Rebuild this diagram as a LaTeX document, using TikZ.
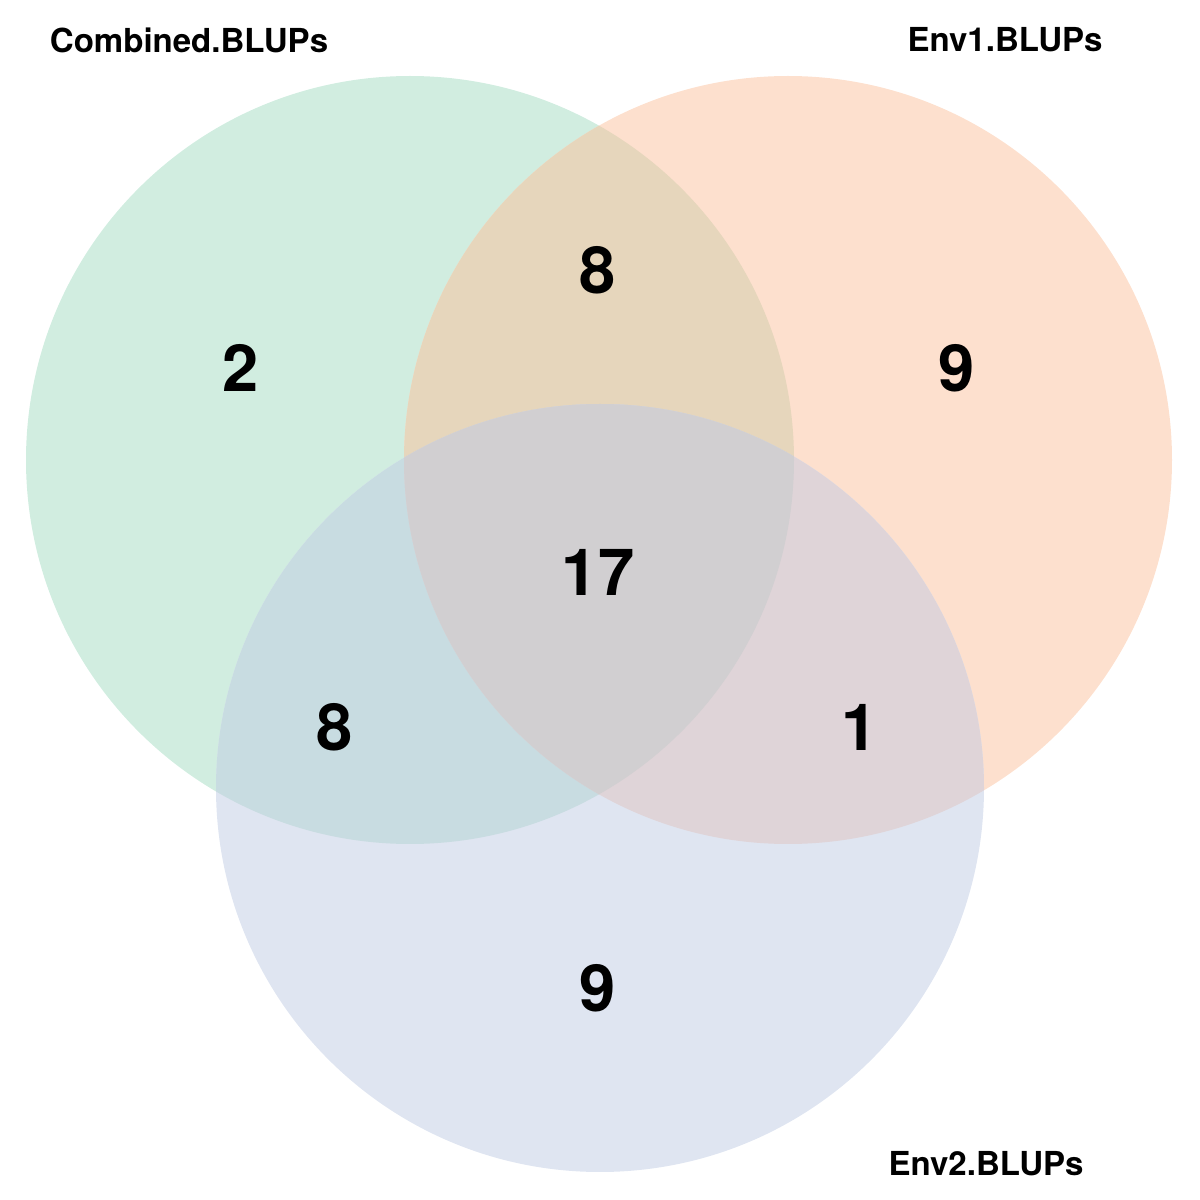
\documentclass[tikz,border=0pt]{standalone}
\usepackage{fontspec}
\setmainfont{TeX Gyre Heros}
\definecolor{setgreen}{HTML}{D1EDE0}
\definecolor{setorange}{HTML}{FDE0CE}
\definecolor{setblue}{HTML}{DFE5F1}
\definecolor{greenorange}{HTML}{E6D6BC}
\definecolor{greenblue}{HTML}{C8DCE1}
\definecolor{orangeblue}{HTML}{DFD4D8}
\definecolor{allthree}{HTML}{D1CFD1}
\tikzset{
	setname/.style={font=\bfseries\fontsize{9.4}{11}\selectfont},
	count/.style={font=\bfseries\fontsize{18.5}{22}\selectfont},
}
\def\combined{(4.10,7.40) circle (3.84)}
\def\envone{(7.88,7.40) circle (3.84)}
\def\envtwo{(6.00,4.12) circle (3.84)}
\begin{document}
\begin{tikzpicture}

\useasboundingbox (0,0) rectangle (12,12);

\fill[setgreen] \combined;
\fill[setorange] \envone;
\fill[setblue] \envtwo;

\begin{scope}
	\clip \combined;
	\fill[greenorange] \envone;
	\fill[greenblue] \envtwo;
\end{scope}
\begin{scope}
	\clip \envone;
	\fill[orangeblue] \envtwo;
\end{scope}
\begin{scope}
	\clip \combined;
	\clip \envone;
	\fill[allthree] \envtwo;
\end{scope}

\node[setname] (combinedname) at (1.89,11.60) {Combined.BLUPs};
\node[setname] (envonename) at (10.05,11.60) {Env1.BLUPs};
\node[setname] (envtwoname) at (9.86,0.36) {Env2.BLUPs};

\node[count] (onlyc) at (2.41,8.32) {2};
\node[count] (ce) at (5.98,9.30) {8};
\node[count] (onlye) at (9.57,8.32) {9};
\node[count] (all) at (5.98,6.28) {17};
\node[count] (ct) at (3.35,4.73) {8};
\node[count] (et) at (8.60,4.73) {1};
\node[count] (onlyt) at (5.98,2.12) {9};

\end{tikzpicture}
\end{document}
